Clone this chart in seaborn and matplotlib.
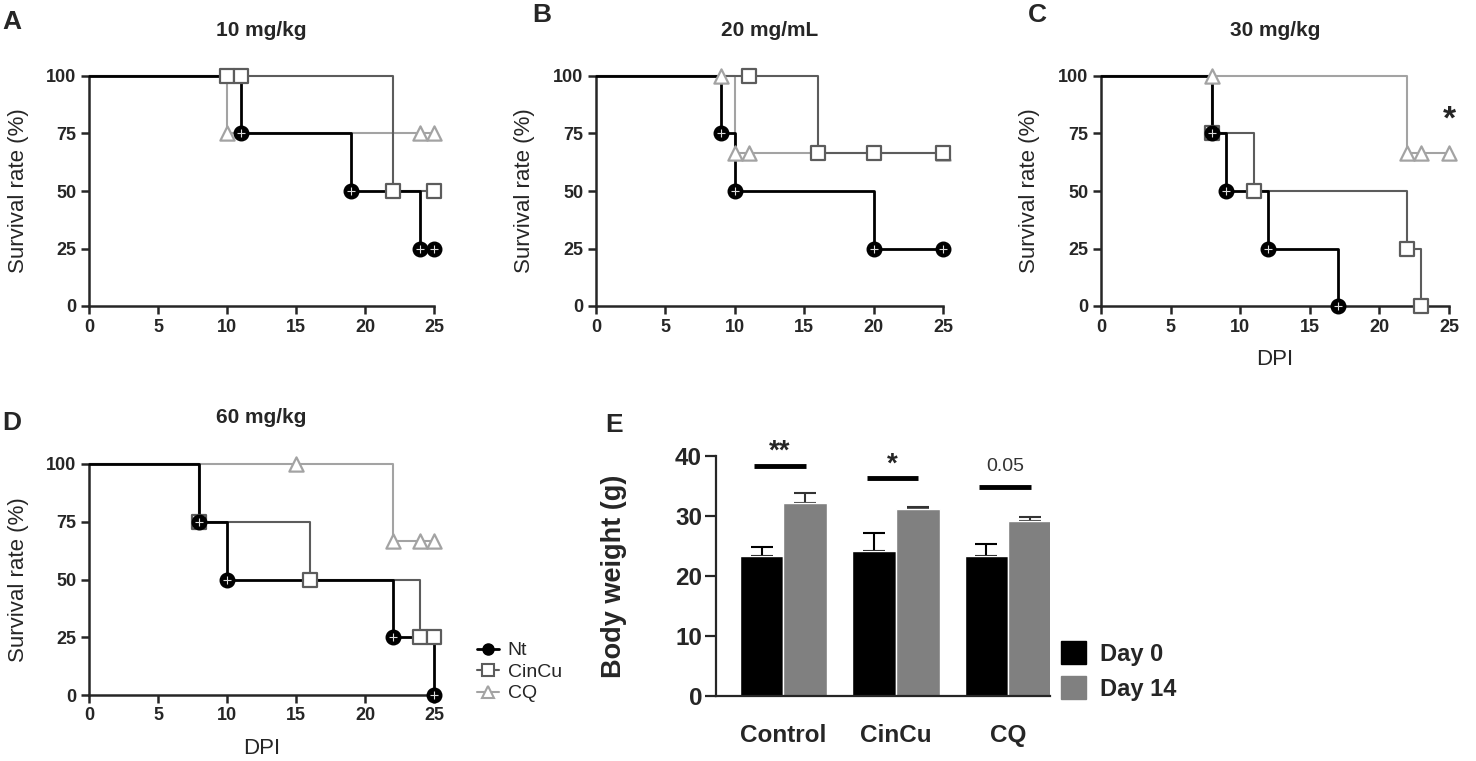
import pandas as pd
import seaborn as sns
import matplotlib.pyplot as plt
from matplotlib.lines import Line2D
from matplotlib.patches import Patch

groups = ['Nt', 'CinCu', 'CQ']
colors = {'Nt': 'black', 'CinCu': '#5c5c5c', 'CQ': '#a3a3a3'}
markers = {'Nt': 'o', 'CinCu': 's', 'CQ': '^'}

panel_letters = ['A', 'B', 'C', 'D']
panel_titles = ['10 mg/kg', '20 mg/mL', '30 mg/kg', '60 mg/kg']

# Kaplan-Meier step points (DPI, survival %)
a_nt_t, a_nt_s = [0, 11, 19, 24, 25], [100, 75, 50, 25, 25]
a_cincu_t, a_cincu_s = [0, 10, 11, 22, 25], [100, 100, 100, 50, 50]
a_cq_t, a_cq_s = [0, 10, 24, 25], [100, 75, 75, 75]

b_nt_t, b_nt_s = [0, 9, 10, 20, 25], [100, 75, 50, 25, 25]
b_cincu_t, b_cincu_s = [0, 11, 16, 20, 25], [100, 100, 66.7, 66.7, 66.7]
b_cq_t, b_cq_s = [0, 9, 10, 11, 25], [100, 100, 66.7, 66.7, 66.7]

c_nt_t, c_nt_s = [0, 8, 9, 12, 17], [100, 75, 50, 25, 0]
c_cincu_t, c_cincu_s = [0, 8, 11, 22, 23], [100, 75, 50, 25, 0]
c_cq_t, c_cq_s = [0, 8, 22, 23, 25], [100, 100, 66.7, 66.7, 66.7]

d_nt_t, d_nt_s = [0, 8, 10, 22, 25], [100, 75, 50, 25, 0]
d_cincu_t, d_cincu_s = [0, 8, 16, 24, 25], [100, 75, 50, 25, 25]
d_cq_t, d_cq_s = [0, 15, 22, 24, 25], [100, 100, 66.7, 66.7, 66.7]

# body weight panel
bw_groups = ['Control', 'CinCu', 'CQ']
bw_days = ['Day 0', 'Day 14']
day0_mean = [23.3, 24.2, 23.3]
day0_err = [1.5, 3.0, 2.1]
day14_mean = [32.1, 31.2, 29.2]
day14_err = [1.7, 0.3, 0.7]
sig_labels = ['**', '*', '0.05']
sig_line_y = [38.4, 36.4, 34.9]
sig_text_y = [41.3, 39.2, 38.3]

sns.set_style('ticks')
plt.rcParams['font.family'] = ['Liberation Sans', 'DejaVu Sans']


def survival_panel(ax, curves, title, show_xlabel):
    for g in ['CQ', 'CinCu', 'Nt']:
        t, s = curves[g]
        df = pd.DataFrame({'DPI': t, 'surv': s})
        lw = 2.0 if g == 'Nt' else 1.5
        sns.lineplot(data=df, x='DPI', y='surv', drawstyle='steps-post', color=colors[g],
                     lw=lw, estimator=None, sort=False, ax=ax, clip_on=False, zorder=3)
        pts = df.iloc[1:]
        if g == 'Nt':
            sns.scatterplot(data=pts, x='DPI', y='surv', marker='o', s=110, facecolor='black',
                            edgecolor='black', linewidth=1, ax=ax, clip_on=False, zorder=5)
            sns.scatterplot(data=pts, x='DPI', y='surv', marker='+', s=30, color='#dddddd',
                            linewidth=0.8, ax=ax, clip_on=False, zorder=6)
        else:
            sns.scatterplot(data=pts, x='DPI', y='surv', marker=markers[g], s=105, facecolor='white',
                            edgecolor=colors[g], linewidth=1.6, ax=ax, clip_on=False, zorder=4)
    ax.set_xlim(0, 25)
    ax.set_ylim(0, 100)
    ax.set_xticks([0, 5, 10, 15, 20, 25])
    ax.set_yticks([0, 25, 50, 75, 100])
    sns.despine(ax=ax)
    for sp in ['left', 'bottom']:
        ax.spines[sp].set_linewidth(1.8)
    ax.tick_params(width=1.8, length=6, pad=3, labelsize=13)
    for lab in ax.get_xticklabels() + ax.get_yticklabels():
        lab.set_fontweight('bold')
    ax.set_ylabel('Survival rate (%)', fontsize=16)
    ax.yaxis.set_label_coords(-0.175, 0.5)
    if show_xlabel:
        ax.set_xlabel('DPI', fontsize=16)
        ax.xaxis.set_label_coords(0.5, -0.185)
    else:
        ax.set_xlabel('')
    ax.text(0.5, 1.2, title, transform=ax.transAxes, ha='center', va='center',
            fontsize=15, fontweight='bold')


fig = plt.figure(figsize=(14.76, 7.61), dpi=100)
W, H = 1476, 761


def px_axes(x0, y_top, x1, y_bot):
    return fig.add_axes([x0 / W, 1 - y_bot / H, (x1 - x0) / W, (y_bot - y_top) / H])


ax_a = px_axes(89, 76, 434, 306)
ax_b = px_axes(596, 76, 943, 306)
ax_c = px_axes(1101, 76, 1449, 306)
ax_d = px_axes(89, 464, 434, 695)
ax_e = px_axes(716, 456, 1050, 696)

survival_panel(ax_a, {'Nt': (a_nt_t, a_nt_s), 'CinCu': (a_cincu_t, a_cincu_s), 'CQ': (a_cq_t, a_cq_s)},
               panel_titles[0], False)
survival_panel(ax_b, {'Nt': (b_nt_t, b_nt_s), 'CinCu': (b_cincu_t, b_cincu_s), 'CQ': (b_cq_t, b_cq_s)},
               panel_titles[1], False)
survival_panel(ax_c, {'Nt': (c_nt_t, c_nt_s), 'CinCu': (c_cincu_t, c_cincu_s), 'CQ': (c_cq_t, c_cq_s)},
               panel_titles[2], True)
survival_panel(ax_d, {'Nt': (d_nt_t, d_nt_s), 'CinCu': (d_cincu_t, d_cincu_s), 'CQ': (d_cq_t, d_cq_s)},
               panel_titles[3], True)
ax_c.text(25, 81, '*', ha='center', va='center', fontsize=24, fontweight='bold')

# survival legend
handles = []
for g in groups:
    if g == 'Nt':
        handles.append(Line2D([], [], color='black', lw=2, marker='o', ms=8, mfc='black', mec='black'))
    else:
        handles.append(Line2D([], [], color=colors[g], lw=1.5, marker=markers[g], ms=8,
                              mfc='white', mec=colors[g], mew=1.5))
fig.legend(handles, groups, loc='center left', bbox_to_anchor=(460 / W, 1 - 672 / H), frameon=False,
           handlelength=1.1, handletextpad=0.45, labelspacing=0.2, fontsize=14)

# body weight bars
bw = pd.DataFrame({
    'group': bw_groups * 2,
    'day': [bw_days[0]] * 3 + [bw_days[1]] * 3,
    'weight': day0_mean + day14_mean,
})
sns.barplot(data=bw, x='group', y='weight', hue='day', palette=['black', '#808080'], saturation=1,
            width=0.78, errorbar=None, ax=ax_e, legend=False, zorder=2)
for container, errs, ec in zip(ax_e.containers, [day0_err, day14_err], ['black', '#333333']):
    for bar, e in zip(container, errs):
        x = bar.get_x() + bar.get_width() / 2
        ax_e.errorbar(x, bar.get_height(), yerr=[[0], [e]], fmt='none', ecolor=ec,
                      elinewidth=1.5, capsize=8, capthick=1.5, zorder=1)
for i, (lab, ly, ty) in enumerate(zip(sig_labels, sig_line_y, sig_text_y)):
    ax_e.plot([i - 0.26, i + 0.2], [ly, ly], color='black', lw=3.5, solid_capstyle='butt')
    if lab == '0.05':
        ax_e.text(i - 0.03, ty, lab, ha='center', va='center', fontsize=14, color='#333333')
    else:
        ax_e.text(i - 0.03, ty - 0.6, lab, ha='center', va='center', fontsize=20, fontweight='bold')
ax_e.set_xlim(-0.6, 2.37)
ax_e.set_ylim(0, 40)
ax_e.set_yticks([0, 10, 20, 30, 40])
sns.despine(ax=ax_e)
for sp in ['left', 'bottom']:
    ax_e.spines[sp].set_linewidth(1.6)
ax_e.tick_params(axis='y', width=1.6, length=8, pad=2, labelsize=17.5)
ax_e.tick_params(axis='x', length=0, pad=20, labelsize=17.5)
for lab in ax_e.get_xticklabels() + ax_e.get_yticklabels():
    lab.set_fontweight('bold')
ax_e.set_xlabel('')
ax_e.set_ylabel('Body weight (g)', fontsize=19.5, fontweight='bold')
ax_e.yaxis.set_label_coords(-0.266, 0.5)
fig.legend([Patch(color='black'), Patch(color='#808080')], bw_days, loc='center left',
           bbox_to_anchor=(1040 / W, 1 - 671 / H), frameon=False, handlelength=1.05, handleheight=1.1,
           handletextpad=0.6, labelspacing=0.45, prop={'size': 17, 'weight': 'bold'})

# panel letters
for letter, (x, y) in zip(panel_letters + ['E'], [(2, 22), (532, 15), (1028, 15), (2, 423), (605, 425)]):
    fig.text(x / W, 1 - y / H, letter, ha='left', va='center', fontsize=19, fontweight='bold')

fig.savefig('out.png', dpi=100)
